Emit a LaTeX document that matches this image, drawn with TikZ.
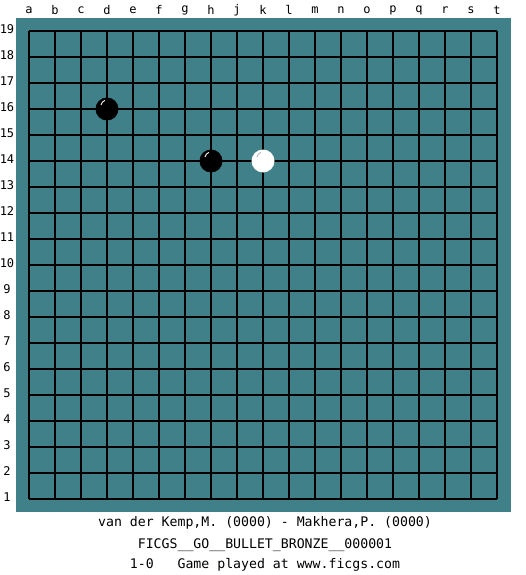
\documentclass[tikz,border=0pt]{standalone}
\usepackage{fontspec}
\setmonofont{DejaVu Sans Mono}
\begin{document}
\begin{tikzpicture}[x=1pt,y=-1pt,
  lbl/.style={font=\ttfamily\fontsize{12}{13}\selectfont, inner sep=0pt},
  captext/.style={font=\ttfamily\fontsize{13.2}{14}\selectfont, inner sep=0pt},
  gridline/.style={line width=1.4pt, black},
  bstone/.style={circle, fill=black, minimum size=23pt, inner sep=0pt},
  wstone/.style={circle, fill=white, minimum size=23pt, inner sep=0pt}]
\definecolor{board}{RGB}{64,128,136}
\useasboundingbox (0,0) rectangle (525,575);
\fill[white] (0,0) rectangle (525,575);
\fill[board] (16,18) rectangle (511,512);
% grid
\foreach \i in {0,...,18}{
  \draw[gridline] (29+26*\i,31) -- (29+26*\i,499);
  \draw[gridline] (29,31+26*\i) -- (497,31+26*\i);
}
% column labels
\foreach \l [count=\i from 0] in {a,b,c,d,e,f,g,h,j,k,l,m,n,o,p,q,r,s,t}{
  \node[lbl] (col\l) at (29+26*\i,10) {\l};
}
% row labels
\foreach \i in {0,...,18}{
  \pgfmathtruncatemacro{\r}{19-\i}
  \node[lbl] (row\r) at (7,29+26*\i) {\r};
}
% stones
\node[bstone] (d16) at (107,109) {};
\node[bstone] (h14) at (211,161) {};
\node[wstone] (k14) at (263,161) {};
\draw[white, line width=0.9pt] ([shift={(-6,-4)}]d16.center) arc[start angle=190, end angle=250, radius=6];
\draw[white, line width=0.9pt] ([shift={(-6,-4)}]h14.center) arc[start angle=190, end angle=250, radius=6];
\draw[gray!60, line width=0.9pt] ([shift={(-6,-4)}]k14.center) arc[start angle=190, end angle=250, radius=6];
% captions
\node[captext] (t1) at (265,523) {van der Kemp,M. (0000) - Makhera,P. (0000)};
\node[captext] (t2) at (265,545) {FICGS\_\_GO\_\_BULLET\_BRONZE\_\_000001};
\node[captext] (t3) at (265,565) {1-0\ \ \ Game played at www.ficgs.com};
\end{tikzpicture}
\end{document}
